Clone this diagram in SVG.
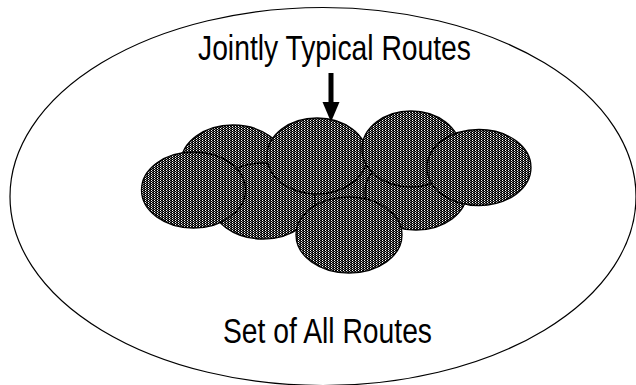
<svg xmlns="http://www.w3.org/2000/svg" width="636" height="385" viewBox="0 0 636 385">
  <style>
    .lbl { font-family: "Liberation Sans Narrow", "Liberation Sans", Arial, sans-serif; font-size: 35px; fill: #000; }
    .route { fill: url(#dots); stroke: #000; stroke-width: 1.3; }
  </style>
  <defs>
    <pattern id="dots" width="3" height="2" patternUnits="userSpaceOnUse">
      <rect width="3" height="2" fill="#000"/>
      <rect x="1" y="0" width="1" height="1" fill="#ffffff"/>
      <rect x="2" y="1" width="1" height="1" fill="#8a8a8a"/>
      <rect x="0" y="1" width="1" height="1" fill="#2a2a2a"/>
    </pattern>
  </defs>
  <rect width="636" height="385" fill="#fff"/>
  <g id="all-routes">
    <ellipse cx="323" cy="196.5" rx="313" ry="189" fill="none" stroke="#000" stroke-width="1.2"/>
    <text class="lbl" x="223" y="343" textLength="209" lengthAdjust="spacingAndGlyphs">Set of All Routes</text>
  </g>
  <g id="typical-routes">
    <polygon points="300,192 330,187 355,172 363,164 373,169 373,200 330,206 300,206" fill="url(#dots)"/>
    <ellipse id="r-b1" class="route" cx="233" cy="163" rx="52" ry="38"/>
    <ellipse id="r-m1" class="route" cx="263" cy="201" rx="52" ry="38"/>
    <ellipse id="r-t" class="route" cx="317" cy="156" rx="50" ry="38"/>
    <ellipse id="r-mr" class="route" cx="416" cy="192" rx="51" ry="38"/>
    <ellipse id="r-tr" class="route" cx="411" cy="149" rx="49" ry="38"/>
    <ellipse id="r-r" class="route" cx="479" cy="167.5" rx="52" ry="38"/>
    <ellipse id="r-f1" class="route" cx="193.5" cy="190" rx="52" ry="38"/>
    <ellipse id="r-bo" class="route" cx="349" cy="235" rx="53" ry="38"/>
  </g>
  <g id="label-typical">
    <text class="lbl" x="198" y="60" textLength="273" lengthAdjust="spacingAndGlyphs">Jointly Typical Routes</text>
  </g>
  <g id="connectors">
    <rect x="328.5" y="73" width="5" height="30" fill="#000"/>
    <polygon points="322.5,102 339.5,102 331,122" fill="#000"/>
  </g>
</svg>
